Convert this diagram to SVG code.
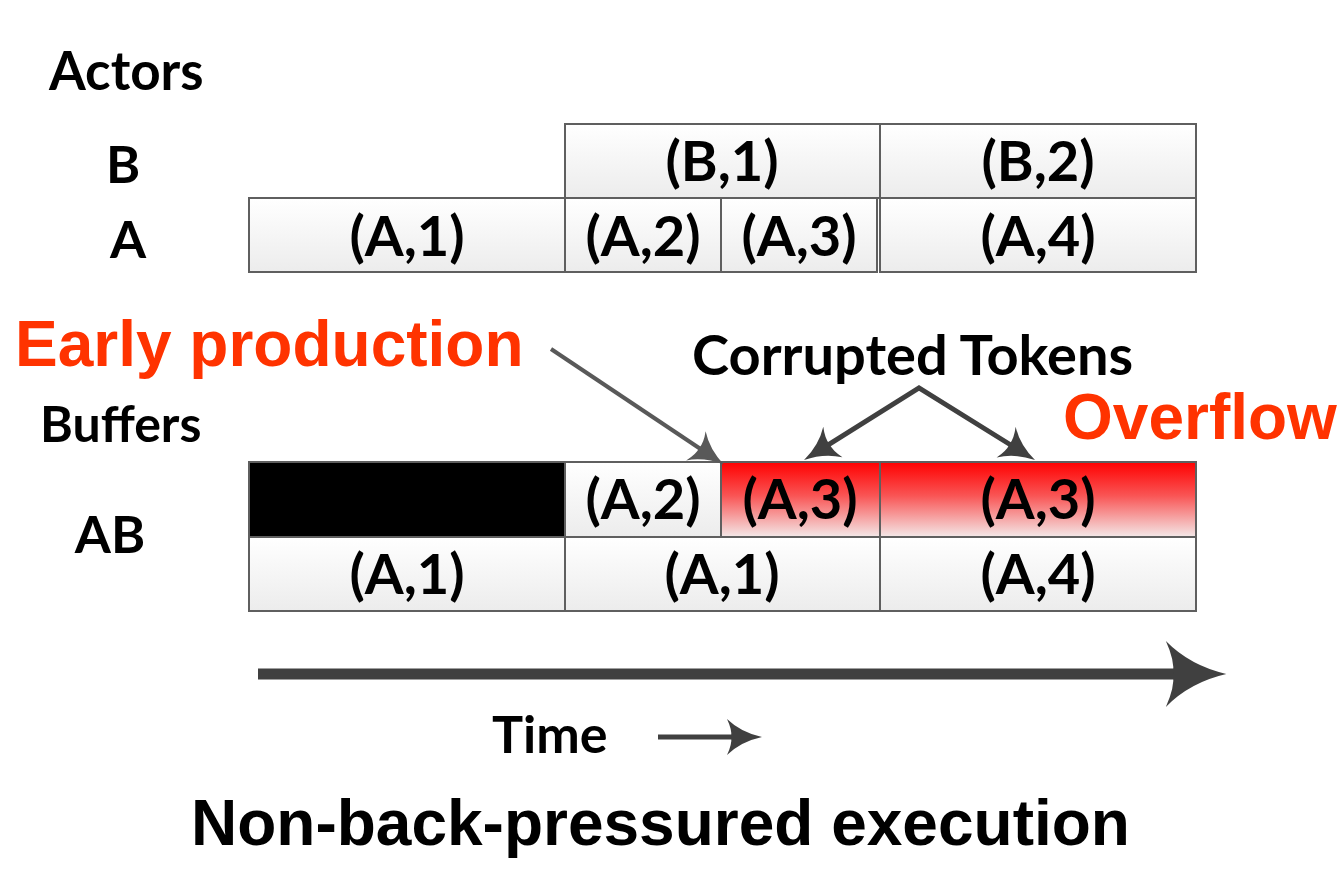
<svg xmlns="http://www.w3.org/2000/svg" width="1339" height="872" viewBox="0 0 1339 872">
  <defs>
    <linearGradient id="gGray" x1="0" y1="0" x2="0" y2="1">
      <stop offset="0" stop-color="#ffffff"/>
      <stop offset="1" stop-color="#ececec"/>
    </linearGradient>
    <linearGradient id="gRed" x1="0" y1="0" x2="0" y2="1">
      <stop offset="0" stop-color="#ff0000"/>
      <stop offset="0.45" stop-color="#f95555"/>
      <stop offset="1" stop-color="#f3e8e8"/>
    </linearGradient>
    <marker id="headS" markerUnits="userSpaceOnUse" orient="auto-start-reverse" markerWidth="40" markerHeight="40" viewBox="-2 -16 32 32" refX="8.1" refY="0" overflow="visible">
      <path d="M27,0 Q10.8,-3.5 0,-14 Q4,-5.6 3.2,0 Q4,5.6 0,14 Q10.8,3.5 27,0 Z" fill="#595959"/>
    </marker>
    <marker id="headM" markerUnits="userSpaceOnUse" orient="auto-start-reverse" markerWidth="40" markerHeight="40" viewBox="-2 -20 40 40" refX="10.2" refY="0" overflow="visible">
      <path d="M34,0 Q13.6,-4.5 0,-18 Q5,-7.2 4,0 Q5,7.2 0,18 Q13.6,4.5 34,0 Z" fill="#404040"/>
    </marker>
    <marker id="headL" markerUnits="userSpaceOnUse" orient="auto" markerWidth="70" markerHeight="70" viewBox="-2 -33 62 66" refX="17.1" refY="0" overflow="visible">
      <path d="M57,0 Q22.8,-7.8 0,-31 Q8.5,-12.4 6.8,0 Q8.5,12.4 0,31 Q22.8,7.8 57,0 Z" fill="#404040"/>
    </marker>
    <marker id="headT" markerUnits="userSpaceOnUse" orient="auto" markerWidth="40" markerHeight="40" viewBox="-2 -20 40 40" refX="10.5" refY="0" overflow="visible">
      <path d="M35,0 Q14,-4.5 0,-18 Q5.2,-7.2 4.2,0 Q5.2,7.2 0,18 Q14,4.5 35,0 Z" fill="#404040"/>
    </marker>
  </defs>
  <style>
    .cell { fill: url(#gGray); stroke: #5f5f5f; stroke-width: 2; }
    .red { fill: url(#gRed); stroke: #5f5f5f; stroke-width: 2; }
    .blk { fill: #000000; stroke: #5f5f5f; stroke-width: 2; }
    .cal { font-family: Lato, "Open Sans", sans-serif; font-weight: bold; fill: #000000; }
    .lbl { font-size: 56px; text-anchor: middle; }
    .side { font-size: 52px; }
    .ari { font-family: "Liberation Sans", Arial, sans-serif; font-weight: bold; font-size: 64px; }
    .hot { fill: #ff3300; }
  </style>

  <rect width="1339" height="872" fill="#ffffff"/>

  <g id="labels">
    <text class="cal side" x="49" y="90" style="font-size:53px">Actors</text>
    <text class="cal side" x="123" y="183" text-anchor="middle">B</text>
    <text class="cal side" x="128" y="258" text-anchor="middle">A</text>
    <text class="cal side" x="40" y="442" style="font-size:50px">Buffers</text>
    <text class="cal side" x="110" y="553" text-anchor="middle">AB</text>
    <text class="cal side" x="492" y="753">Time</text>
    <text class="cal side" x="692" y="375" style="font-size:56px">Corrupted Tokens</text>
    <text class="ari hot" x="15" y="366">Early production</text>
    <text class="ari hot" x="1063" y="439">Overflow</text>
    <text class="ari" x="191" y="845">Non-back-pressured execution</text>
  </g>

  <g id="actor-B">
    <g id="B1"><rect class="cell" x="565" y="124" width="315" height="74"/><text class="cal lbl" x="722" y="181">(B,1)</text></g>
    <g id="B2"><rect class="cell" x="880" y="124" width="316" height="74"/><text class="cal lbl" x="1038" y="181">(B,2)</text></g>
  </g>
  <g id="actor-A">
    <g id="A1"><rect class="cell" x="249" y="198" width="316" height="74"/><text class="cal lbl" x="407" y="256">(A,1)</text></g>
    <g id="A2"><rect class="cell" x="565" y="198" width="156" height="74"/><text class="cal lbl" x="643" y="256">(A,2)</text></g>
    <g id="A3"><rect class="cell" x="721" y="198" width="156" height="74"/><text class="cal lbl" x="799" y="256">(A,3)</text></g>
    <g id="A4"><rect class="cell" x="880" y="198" width="316" height="74"/><text class="cal lbl" x="1038" y="256">(A,4)</text></g>
  </g>
  <g id="buffer-AB-top">
    <g id="AB-empty"><rect class="blk" x="249" y="462" width="316" height="75"/></g>
    <g id="AB-A2"><rect class="cell" x="565" y="462" width="156" height="75"/><text class="cal lbl" x="643" y="519">(A,2)</text></g>
    <g id="AB-A3a"><rect class="red" x="721" y="462" width="159" height="75"/><text class="cal lbl" x="800" y="519">(A,3)</text></g>
    <g id="AB-A3b"><rect class="red" x="880" y="462" width="316" height="75"/><text class="cal lbl" x="1038" y="519">(A,3)</text></g>
  </g>
  <g id="buffer-AB-bottom">
    <g id="AB-A1a"><rect class="cell" x="249" y="537" width="316" height="74"/><text class="cal lbl" x="407" y="594">(A,1)</text></g>
    <g id="AB-A1b"><rect class="cell" x="565" y="537" width="315" height="74"/><text class="cal lbl" x="722" y="594">(A,1)</text></g>
    <g id="AB-A4"><rect class="cell" x="880" y="537" width="316" height="74"/><text class="cal lbl" x="1038" y="594">(A,4)</text></g>
  </g>

  <g id="connectors" fill="none">
    <path d="M551,349 L704.3,451.5" stroke="#595959" stroke-width="4" marker-end="url(#headS)"/>
    <path d="M824.2,447.4 L919,388 L1014.8,447.5" stroke="#404040" stroke-width="5" stroke-linejoin="miter" marker-start="url(#headM)" marker-end="url(#headM)"/>
    <path d="M258,674 L1184,674" stroke="#404040" stroke-width="11" marker-end="url(#headL)"/>
    <path d="M658,737 L737.5,737" stroke="#404040" stroke-width="5" marker-end="url(#headT)"/>
  </g>
</svg>
